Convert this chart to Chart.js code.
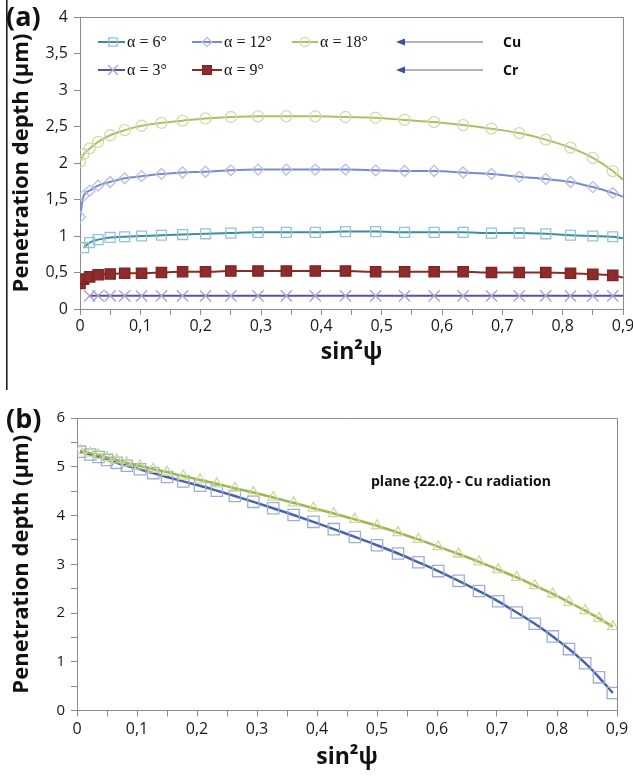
<!DOCTYPE html>
<html><head><meta charset="utf-8">
<script src="https://cdn.jsdelivr.net/npm/chart.js@4.4.1/dist/chart.umd.min.js"></script>
<style>
html,body{margin:0;padding:0;background:#fff;}
#wrap{position:relative;width:633px;height:778px;overflow:hidden;background:#fff;}
canvas{position:absolute;left:0;display:block;}
#ca{top:0;} #cb{top:390px;}
</style></head><body>
<div id="wrap"><canvas id="ca" width="633" height="390"></canvas><canvas id="cb" width="633" height="388"></canvas></div>
<script>
// ---------- Panel (a) data ----------
const xA = [0, 0.006, 0.016, 0.03, 0.05, 0.074, 0.102, 0.135, 0.17, 0.208, 0.25, 0.295, 0.342, 0.39, 0.44, 0.49, 0.538, 0.587, 0.635, 0.682, 0.728, 0.772, 0.813, 0.85, 0.883, 0.9];
const alpha6  = [null, 0.84, 0.91, 0.95, 0.98, 0.99, 1.00, 1.01, 1.02, 1.03, 1.04, 1.05, 1.05, 1.05, 1.06, 1.06, 1.05, 1.05, 1.05, 1.04, 1.04, 1.03, 1.01, 1.00, 0.99, 0.97];
const alpha12 = [1.26, 1.55, 1.62, 1.69, 1.74, 1.79, 1.82, 1.85, 1.87, 1.88, 1.90, 1.91, 1.91, 1.91, 1.91, 1.90, 1.89, 1.89, 1.87, 1.85, 1.81, 1.78, 1.74, 1.67, 1.59, 1.54];
const alpha18 = [2.02, 2.12, 2.20, 2.29, 2.38, 2.45, 2.51, 2.55, 2.58, 2.61, 2.63, 2.64, 2.64, 2.64, 2.63, 2.62, 2.59, 2.56, 2.52, 2.47, 2.41, 2.32, 2.21, 2.07, 1.89, 1.77];
const alpha3  = [null, null, 0.18, 0.18, 0.18, 0.18, 0.18, 0.18, 0.18, 0.18, 0.18, 0.18, 0.18, 0.18, 0.18, 0.18, 0.18, 0.18, 0.18, 0.18, 0.18, 0.18, 0.18, 0.18, 0.18, 0.18];
const alpha9  = [0.35, 0.41, 0.44, 0.47, 0.48, 0.49, 0.49, 0.50, 0.51, 0.51, 0.52, 0.52, 0.52, 0.52, 0.52, 0.51, 0.51, 0.51, 0.51, 0.50, 0.50, 0.50, 0.49, 0.475, 0.46, 0.43];
const labelsA = ['α = 6°', 'α = 12°', 'α = 18°', 'α = 3°', 'α = 9°'];
const radiationLabels = ['Cu', 'Cr'];

// ---------- Panel (b) data ----------
const xB = [0.005, 0.022, 0.036, 0.05, 0.066, 0.083, 0.105, 0.127, 0.15, 0.177, 0.205, 0.233, 0.263, 0.294, 0.327, 0.361, 0.394, 0.428, 0.463, 0.5, 0.535, 0.569, 0.602, 0.636, 0.67, 0.702, 0.733, 0.763, 0.793, 0.82, 0.847, 0.87, 0.893];
const bSquares   = [5.31, 5.25, 5.20, 5.14, 5.08, 5.02, 4.95, 4.87, 4.79, 4.70, 4.61, 4.51, 4.40, 4.28, 4.15, 4.01, 3.87, 3.72, 3.56, 3.39, 3.22, 3.04, 2.86, 2.66, 2.45, 2.24, 2.01, 1.78, 1.52, 1.26, 0.97, 0.68, 0.36];
const bTriangles = [5.33, 5.28, 5.24, 5.19, 5.14, 5.08, 5.02, 4.95, 4.89, 4.81, 4.73, 4.65, 4.56, 4.47, 4.37, 4.26, 4.15, 4.04, 3.92, 3.79, 3.65, 3.51, 3.36, 3.21, 3.05, 2.89, 2.73, 2.56, 2.39, 2.22, 2.05, 1.89, 1.72];
const annotationB = 'plane {22.0} - Cu radiation';

const xTitle = 'sin²ψ';
const yTitle = 'Penetration depth (μm)';

Chart.defaults.font.family = "'Open Sans', 'DejaVu Sans', sans-serif";
Chart.defaults.color = '#1a1a1a';

function pts(xs, ys) { return xs.map((x, i) => ({ x: x, y: ys[i] })); }
function fmtComma(v) { return String(Math.round(v * 100) / 100).replace('.', ','); }

function drawMarker(ctx, style, x, y, r, stroke, fill, lw) {
  ctx.save();
  ctx.lineWidth = lw; ctx.strokeStyle = stroke; ctx.fillStyle = fill;
  ctx.beginPath();
  if (style === 'rect') { const s = r * Math.SQRT1_2; ctx.rect(x - s, y - s, 2 * s, 2 * s); }
  else if (style === 'rectRot') { ctx.moveTo(x - r, y); ctx.lineTo(x, y - r); ctx.lineTo(x + r, y); ctx.lineTo(x, y + r); ctx.closePath(); }
  else if (style === 'circle') { ctx.arc(x, y, r, 0, Math.PI * 2); }
  else if (style === 'crossRot') { const s = r * Math.SQRT1_2; ctx.moveTo(x - s, y - s); ctx.lineTo(x + s, y + s); ctx.moveTo(x + s, y - s); ctx.lineTo(x - s, y + s); }
  ctx.fill(); ctx.stroke();
  ctx.restore();
}

const lastA = xA.length - 1;
function radA(r) { return c => (c.dataIndex === lastA ? 0 : r); }

const seriesA = [
  { label: labelsA[0], data: pts(xA, alpha6),  borderColor: '#3d8ca3', pointBorderColor: '#93c3cf', pointBackgroundColor: 'rgba(0,0,0,0)', pointStyle: 'rect',     r: 7 },
  { label: labelsA[1], data: pts(xA, alpha12), borderColor: '#7b89cc', pointBorderColor: '#b7bfe6', pointBackgroundColor: 'rgba(0,0,0,0)', pointStyle: 'rectRot',  r: 5.5 },
  { label: labelsA[2], data: pts(xA, alpha18), borderColor: '#a7c266', pointBorderColor: '#cfdca8', pointBackgroundColor: 'rgba(0,0,0,0)', pointStyle: 'circle',   r: 5.5 },
  { label: labelsA[3], data: pts(xA, alpha3),  borderColor: '#5e4f9c', pointBorderColor: '#aaa0cc', pointBackgroundColor: 'rgba(0,0,0,0)', pointStyle: 'crossRot', r: 8 },
  { label: labelsA[4], data: pts(xA, alpha9),  borderColor: '#8c2a2a', pointBorderColor: '#7e2424', pointBackgroundColor: '#8e2b2b',       pointStyle: 'rect',     r: 7.3 }
];

const legendPos = [
  { lx0: 98, lx1: 125, mx: 113, tx: 127, y: 42 },
  { lx0: 192, lx1: 222, mx: 207, tx: 224, y: 42 },
  { lx0: 292, lx1: 318, mx: 305, tx: 320, y: 42 },
  { lx0: 98, lx1: 125, mx: 113, tx: 127, y: 70 },
  { lx0: 192, lx1: 222, mx: 207, tx: 224, y: 70 }
];

const extrasA = {
  id: 'extrasA',
  afterDraw(chart) {
    const ctx = chart.ctx, a = chart.chartArea;
    ctx.save();
    ctx.strokeStyle = '#8c8c8c'; ctx.lineWidth = 1;
    ctx.beginPath();
    ctx.moveTo(a.left, a.top + 0.5); ctx.lineTo(a.right + 0.5, a.top + 0.5); ctx.lineTo(a.right + 0.5, a.bottom);
    ctx.stroke();
    ctx.fillStyle = '#222'; ctx.fillRect(6, 0, 1.6, 390);
    ctx.fillStyle = '#111'; ctx.font = "bold 27px 'Open Sans', sans-serif";
    ctx.textBaseline = 'middle'; ctx.textAlign = 'left';
    ctx.fillText('(a)', 6, 18);
    chart.data.datasets.forEach((ds, i) => {
      const p = legendPos[i];
      ctx.strokeStyle = ds.borderColor; ctx.lineWidth = 2;
      ctx.beginPath(); ctx.moveTo(p.lx0, p.y); ctx.lineTo(p.lx1, p.y); ctx.stroke();
      drawMarker(ctx, ds.pointStyle, p.mx, p.y, ds.r * 0.85, ds.pointBorderColor, ds.pointBackgroundColor, 1.3);
      ctx.fillStyle = '#111'; ctx.font = "16px 'Liberation Serif', 'DejaVu Serif', serif";
      ctx.textBaseline = 'middle'; ctx.textAlign = 'left';
      ctx.fillText(ds.label, p.tx, p.y + 1);
    });
    [42, 70].forEach((y, i) => {
      ctx.strokeStyle = '#8f97b5'; ctx.lineWidth = 1.5;
      ctx.beginPath(); ctx.moveTo(402, y); ctx.lineTo(483, y); ctx.stroke();
      ctx.fillStyle = '#3c4ea6';
      ctx.beginPath(); ctx.moveTo(396, y); ctx.lineTo(405, y - 3.5); ctx.lineTo(405, y + 3.5); ctx.closePath(); ctx.fill();
      ctx.fillStyle = '#111'; ctx.font = "bold 14px 'Open Sans', sans-serif";
      ctx.fillText(radiationLabels[i], 503, y + 1);
    });
    ctx.restore();
  }
};

new Chart(document.getElementById('ca'), {
  type: 'line',
  data: {
    datasets: seriesA.map(s => ({
      label: s.label, data: s.data, borderColor: s.borderColor, borderWidth: 2,
      pointStyle: s.pointStyle, pointRadius: radA(s.r), pointBorderColor: s.pointBorderColor,
      pointBackgroundColor: s.pointBackgroundColor, pointBorderWidth: 1.3,
      cubicInterpolationMode: 'monotone', spanGaps: true, fill: false, r: s.r
    }))
  },
  options: {
    responsive: false, animation: false, devicePixelRatio: 1,
    layout: { padding: { top: 17, right: 10, left: 0, bottom: 0 } },
    plugins: { legend: { display: false }, tooltip: { enabled: false } },
    scales: {
      x: {
        type: 'linear', min: 0, max: 0.9,
        ticks: { stepSize: 0.05, autoSkip: false, maxRotation: 0, padding: 2, font: { size: 16 }, color: '#1a1a1a',
          callback: v => { const k = Math.round(v * 20); return k % 2 ? '' : (k === 0 ? '0' : fmtComma(k / 20)); } },
        grid: { drawOnChartArea: false, drawTicks: true, tickLength: 6, color: '#8c8c8c' },
        border: { color: '#8c8c8c', width: 1 },
        title: { display: true, text: xTitle, font: { size: 23, weight: 'bold' }, color: '#111', padding: { top: 0, bottom: 24 } },
        afterFit: s => { s.height = 81; s.paddingLeft = 0; s.paddingRight = 0; }
      },
      y: {
        min: 0, max: 4,
        ticks: { stepSize: 0.5, padding: 6, font: { size: 16 }, color: '#1a1a1a', callback: v => fmtComma(v) },
        grid: { drawOnChartArea: false, drawTicks: true, tickLength: 6, color: '#8c8c8c' },
        border: { color: '#8c8c8c', width: 1 },
        title: { display: true, text: yTitle, font: { size: 22, weight: 'bold' }, color: '#111', padding: { top: 9, bottom: 0 } },
        afterFit: s => { s.width = 80; s.paddingTop = 0; s.paddingBottom = 0; }
      }
    }
  },
  plugins: [extrasA]
});

// ---------- Panel (b) ----------
const extrasB = {
  id: 'extrasB',
  afterDraw(chart) {
    const ctx = chart.ctx, a = chart.chartArea;
    ctx.save();
    ctx.strokeStyle = '#8c8c8c'; ctx.lineWidth = 1;
    ctx.beginPath();
    ctx.moveTo(a.left, a.top + 0.5); ctx.lineTo(a.right + 0.5, a.top + 0.5); ctx.lineTo(a.right + 0.5, a.bottom);
    ctx.stroke();
    ctx.fillStyle = '#111'; ctx.font = "bold 27px 'Open Sans', sans-serif";
    ctx.textBaseline = 'middle'; ctx.textAlign = 'left';
    ctx.fillText('(b)', 6, 30);
    ctx.font = "bold 14px 'Open Sans', sans-serif";
    ctx.fillText(annotationB, 371, 92);
    ctx.restore();
  }
};

new Chart(document.getElementById('cb'), {
  type: 'line',
  data: {
    datasets: [
      { label: 'triangles', data: pts(xB, bTriangles), borderColor: '#9bb84e', borderWidth: 2.5,
        pointStyle: 'triangle', pointRadius: 6, pointBorderColor: '#cdd99f', pointBackgroundColor: 'rgba(0,0,0,0)', pointBorderWidth: 1.3,
        cubicInterpolationMode: 'monotone', fill: false },
      { label: 'squares', data: pts(xB, bSquares), borderColor: '#4863ad', borderWidth: 2.5,
        pointStyle: 'rect', pointRadius: 8, pointBorderColor: '#9eadd2', pointBackgroundColor: 'rgba(0,0,0,0)', pointBorderWidth: 1.3,
        cubicInterpolationMode: 'monotone', fill: false }
    ]
  },
  options: {
    responsive: false, animation: false, devicePixelRatio: 1,
    layout: { padding: { top: 28, right: 16, left: 0, bottom: 0 } },
    plugins: { legend: { display: false }, tooltip: { enabled: false } },
    scales: {
      x: {
        type: 'linear', min: 0, max: 0.9,
        ticks: { stepSize: 0.05, autoSkip: false, maxRotation: 0, padding: 3, font: { size: 16 }, color: '#1a1a1a',
          callback: v => { const k = Math.round(v * 20); return k % 2 ? '' : (k === 0 ? '0' : fmtComma(k / 20)); } },
        grid: { drawOnChartArea: false, drawTicks: true, tickLength: 6, color: '#8c8c8c' },
        border: { color: '#8c8c8c', width: 1 },
        title: { display: true, text: xTitle, font: { size: 23, weight: 'bold' }, color: '#111', padding: { top: 0, bottom: 7 } },
        afterFit: s => { s.height = 67.5; s.paddingLeft = 0; s.paddingRight = 0; }
      },
      y: {
        min: 0, max: 6,
        ticks: { stepSize: 0.5, padding: 6, font: { size: 15 }, color: '#1a1a1a', callback: v => (Number.isInteger(v) ? String(v) : '') },
        grid: { drawOnChartArea: false, drawTicks: true, tickLength: 6, color: '#8c8c8c' },
        border: { color: '#8c8c8c', width: 1 },
        title: { display: true, text: yTitle, font: { size: 22, weight: 'bold' }, color: '#111', padding: { top: 9, bottom: 0 } },
        afterFit: s => { s.width = 77; s.paddingTop = 0; s.paddingBottom = 0; }
      }
    }
  },
  plugins: [extrasB]
});
</script>
</body></html>
